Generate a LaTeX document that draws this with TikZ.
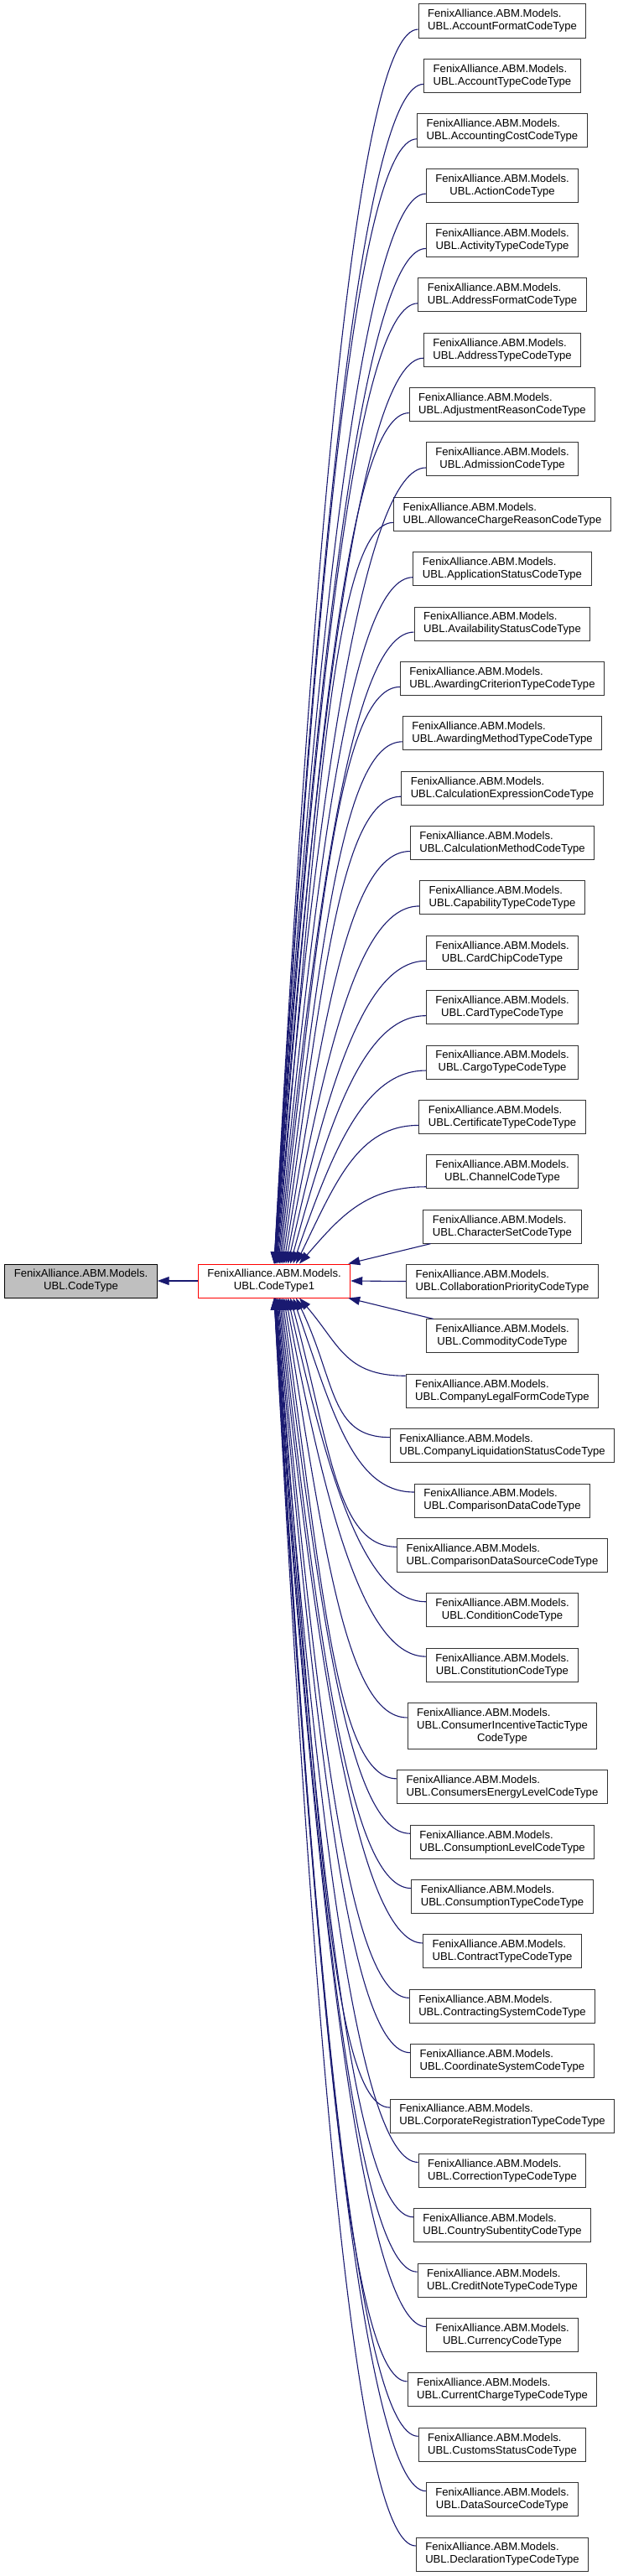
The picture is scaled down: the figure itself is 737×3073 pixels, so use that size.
\documentclass[tikz,border=0pt]{standalone}
\usepackage{fontspec}
\setmainfont{Liberation Sans}
\usetikzlibrary{arrows.meta,calc}
\definecolor{edgeblue}{HTML}{191970}
\definecolor{basegray}{HTML}{BFBFBF}
\tikzset{>={Triangle[length=7pt,width=5pt]}}
\tikzset{font=\fontsize{6.55}{7.5}\selectfont}
\tikzset{
  classbox/.style={draw=black!80, line width=0.5pt, fill=white, align=left,
    inner xsep=5.5pt, inner ysep=3.2pt, minimum height=20pt},
  edge/.style={->, draw=edgeblue, line width=0.55pt}
}
\begin{document}
\begin{tikzpicture}[x=0.5pt, y=-0.5pt]
  \useasboundingbox (0,0) rectangle (737,3073);
  \node[classbox, fill=basegray, draw=black] (base) at (96.5,1528)
    {FenixAlliance.ABM.Models.\\\hfil UBL.CodeType};
  \node[classbox, draw=red] (code1) at (327,1528)
    {FenixAlliance.ABM.Models.\\\hfil UBL.CodeType1};
  % derived classes, one per row
  \foreach \i/\lbl in {1/AccountFormatCodeType, 2/AccountTypeCodeType,
      3/AccountingCostCodeType, 4/ActionCodeType, 5/ActivityTypeCodeType,
      6/AddressFormatCodeType, 7/AddressTypeCodeType, 8/AdjustmentReasonCodeType,
      9/AdmissionCodeType, 10/AllowanceChargeReasonCodeType,
      11/ApplicationStatusCodeType, 12/AvailabilityStatusCodeType,
      13/AwardingCriterionTypeCodeType, 14/AwardingMethodTypeCodeType,
      15/CalculationExpressionCodeType, 16/CalculationMethodCodeType,
      17/CapabilityTypeCodeType, 18/CardChipCodeType, 19/CardTypeCodeType,
      20/CargoTypeCodeType, 21/CertificateTypeCodeType, 22/ChannelCodeType,
      23/CharacterSetCodeType, 24/CollaborationPriorityCodeType,
      25/CommodityCodeType, 26/CompanyLegalFormCodeType,
      27/CompanyLiquidationStatusCodeType, 28/ComparisonDataCodeType,
      29/ComparisonDataSourceCodeType, 30/ConditionCodeType,
      31/ConstitutionCodeType, 32/{ConsumerIncentiveTacticType\\\hfil CodeType},
      33/ConsumersEnergyLevelCodeType, 34/ConsumptionLevelCodeType,
      35/ConsumptionTypeCodeType, 36/ContractTypeCodeType,
      37/ContractingSystemCodeType, 38/CoordinateSystemCodeType,
      39/CorporateRegistrationTypeCodeType, 40/CorrectionTypeCodeType,
      41/CountrySubentityCodeType, 42/CreditNoteTypeCodeType,
      43/CurrencyCodeType, 44/CurrentChargeTypeCodeType,
      45/CustomsStatusCodeType, 46/DataSourceCodeType,
      47/DeclarationTypeCodeType} {
    \pgfmathsetmacro\yy{25+(\i-1)*65.37+(\i>32)*15+(\i==32)*7.5}
    \node[classbox] (sub\i) at (599,\yy)
      {FenixAlliance.ABM.Models.\\\hfil UBL.\lbl};
  }
  % inheritance edges
  \draw[edge] (code1.west) -- (base.east);
  \foreach \i in {1,...,22} {
    \pgfmathsetmacro\off{(\i==22)*8+10}
    \pgfmathsetmacro\yy{25+(\i-1)*65.37}
    \pgfmathsetmacro\dd{0.6*(1508-\yy-\off)}
    \pgfmathsetmacro\xe{30*(\i/22)^3}
    \draw[edge] ($(sub\i.west)+(0,\off)$) .. controls +(-72,0) and +(48,-\dd)
      .. ($(code1.north)+(\xe,0)$);
  }
  \draw[edge] ($(sub23.south west)+(9,0)$) -- ($(code1.north east)+(-3,0)$);
  \draw[edge] (sub24.west) -- (code1.east);
  \draw[edge] ($(sub25.north west)+(9,0)$) -- ($(code1.south east)+(-3,0)$);
  \foreach \i in {26,...,47} {
    \pgfmathsetmacro\off{(\i==26)*8+10}
    \pgfmathsetmacro\yy{25+(\i-1)*65.37+(\i>32)*15+(\i==32)*7.5}
    \pgfmathsetmacro\dd{0.6*(\yy-\off-1548)}
    \pgfmathsetmacro\xe{30*((48-\i)/22)^3}
    \draw[edge] ($(sub\i.west)+(0,-\off)$) .. controls +(-72,0) and +(48,\dd)
      .. ($(code1.south)+(\xe,0)$);
  }
\end{tikzpicture}
\end{document}
